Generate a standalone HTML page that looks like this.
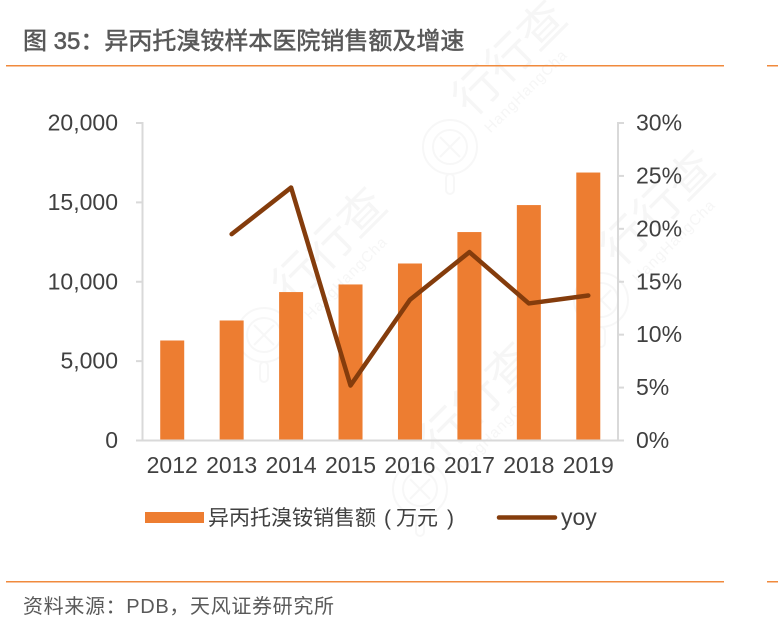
<!DOCTYPE html>
<html>
<head>
<meta charset="utf-8">
<style>
html,body{margin:0;padding:0;background:#fff;}
#page{position:relative;width:778px;height:633px;overflow:hidden;background:#fff;font-family:"Liberation Sans","Noto Sans CJK SC",sans-serif;}
svg{position:absolute;left:0;top:0;}
</style>
</head>
<body>
<div id="page">
<svg id="chart" width="778" height="633" viewBox="0 0 778 633">
  <g id="wm" fill="none" stroke="#f7f7f7" stroke-width="2"></g>
  <text x="23" y="49" font-size="24" fill="#595959" stroke="#595959" stroke-width="0.55">图 35：异丙托溴铵样本医院销售额及增速</text>
  <rect x="6" y="65" width="718" height="1.5" fill="#f08a3c"/>
  <rect x="767" y="65" width="11" height="1.5" fill="#f08a3c"/>
  <g id="bars"></g>
  <g id="axes"></g>
  <g id="labels"></g>
  <g id="line"></g>
  <rect x="145" y="512" width="59" height="11" fill="#ed7d31"/>
  <text y="525" font-size="21" fill="#404040"><tspan x="208">异丙托溴铵销售额</tspan><tspan x="384">(</tspan><tspan x="396">万元</tspan><tspan x="447">)</tspan></text>
  <line x1="499" y1="517.5" x2="555" y2="517.5" stroke="#843c0c" stroke-width="4.5" stroke-linecap="round"/>
  <text x="561" y="525" font-size="23" fill="#404040">yoy</text>
  <rect x="6" y="581" width="718" height="1.5" fill="#f08a3c"/>
  <rect x="767" y="581" width="11" height="1.5" fill="#f08a3c"/>
  <text x="23" y="613" font-size="20" fill="#595959" textLength="311" lengthAdjust="spacing">资料来源：PDB，天风证券研究所</text>
</svg>
</div>
<script>
const categories = ['2012','2013','2014','2015','2016','2017','2018','2019'];
const salesValues = [6300,7560,9350,9830,11150,13130,14830,16880];
const yoyValues = [null,19.5,23.9,5.2,13.3,17.8,12.95,13.7];
const leftTicks = [0,5000,10000,15000,20000];
const rightTicks = [0,5,10,15,20,25,30];

const NS = 'http://www.w3.org/2000/svg';
const plot = {left:142.5,right:618,top:123,bottom:440.5};
const xBand = (plot.right - plot.left) / categories.length;
const xScale = i => plot.left + xBand * (i + 0.5);
const yLeft = v => plot.bottom - v / 20000 * (plot.bottom - plot.top);
const yRight = v => plot.bottom - v / 30 * (plot.bottom - plot.top);
function mk(tag, attrs, parent, txt){
  const el = document.createElementNS(NS, tag);
  for (const k in attrs) el.setAttribute(k, attrs[k]);
  if (txt !== undefined) el.textContent = txt;
  parent.appendChild(el);
  return el;
}
const barsG = document.getElementById('bars');
const axesG = document.getElementById('axes');
const labelsG = document.getElementById('labels');
const lineG = document.getElementById('line');
const wm = document.getElementById('wm');
const axisColor = '#d9d9d9';
const textColor = '#404040';

salesValues.forEach((v, i) => {
  const b = mk('rect', {x:xScale(i)-12, y:yLeft(v), width:24, height:plot.bottom-yLeft(v)-1, fill:'#ed7d31'}, barsG);
  
  
});

const la = mk('line', {x1:plot.left, y1:plot.top-1, x2:plot.left, y2:plot.bottom+1, stroke:axisColor, 'stroke-width':2}, axesG);


const ra = mk('line', {x1:plot.right, y1:plot.top-1, x2:plot.right, y2:plot.bottom+1, stroke:axisColor, 'stroke-width':2}, axesG);


const ba = mk('line', {x1:plot.left-6.5, y1:plot.bottom, x2:plot.right+6, y2:plot.bottom, stroke:axisColor, 'stroke-width':2}, axesG);



leftTicks.forEach(v => {
  const t = mk('line', {x1:plot.left-6.5, y1:yLeft(v), x2:plot.left, y2:yLeft(v), stroke:axisColor, 'stroke-width':2}, axesG);
  
  
  const l = mk('text', {x:118, y:yLeft(v)+7.5, 'text-anchor':'end', 'font-size':23, fill:textColor}, labelsG, v.toLocaleString('en-US'));
  
  
});
rightTicks.forEach(v => {
  const t = mk('line', {x1:plot.right, y1:yRight(v), x2:plot.right+6, y2:yRight(v), stroke:axisColor, 'stroke-width':2}, axesG);
  
  
  const l = mk('text', {x:636, y:yRight(v)+7.5, 'font-size':23, fill:textColor}, labelsG, v + '%');
  
  
});
categories.forEach((c, i) => {
  const l = mk('text', {x:xScale(i), y:473, 'text-anchor':'middle', 'font-size':23, fill:textColor}, labelsG, c);
  
  
});

const pts = [];
yoyValues.forEach((v, i) => { if (v !== null) pts.push(xScale(i) + ',' + yRight(v)); });
const poly = mk('polyline', {points:pts.join(' '), fill:'none', stroke:'#843c0c', 'stroke-width':4.5, 'stroke-linecap':'round', 'stroke-linejoin':'round'}, lineG);



function stamp(cx, cy){
  mk('circle', {cx:cx, cy:cy, r:27}, wm);
  mk('circle', {cx:cx, cy:cy, r:17}, wm);
  mk('line', {x1:cx-10, y1:cy-10, x2:cx+10, y2:cy+10}, wm);
  mk('line', {x1:cx+10, y1:cy-10, x2:cx-10, y2:cy+10}, wm);
  mk('rect', {x:cx-4, y:cy+27, width:8, height:20, rx:4}, wm);
}
function wmText(x, y){
  const g = mk('g', {transform:'translate(' + x + ' ' + y + ') rotate(-45)', fill:'#f6f6f6', stroke:'none'}, wm);
  mk('text', {x:0, y:0, 'font-size':46}, g, '行行查');
  mk('text', {x:2, y:24, 'font-size':15, 'letter-spacing':1}, g, 'HangHangCha');
}
[[450,147],[264,335],[601,300],[420,489]].forEach(p => stamp(p[0], p[1]));
[[472,118],[292,305],[620,268],[440,460]].forEach(p => wmText(p[0], p[1]));
</script>
</body>
</html>
